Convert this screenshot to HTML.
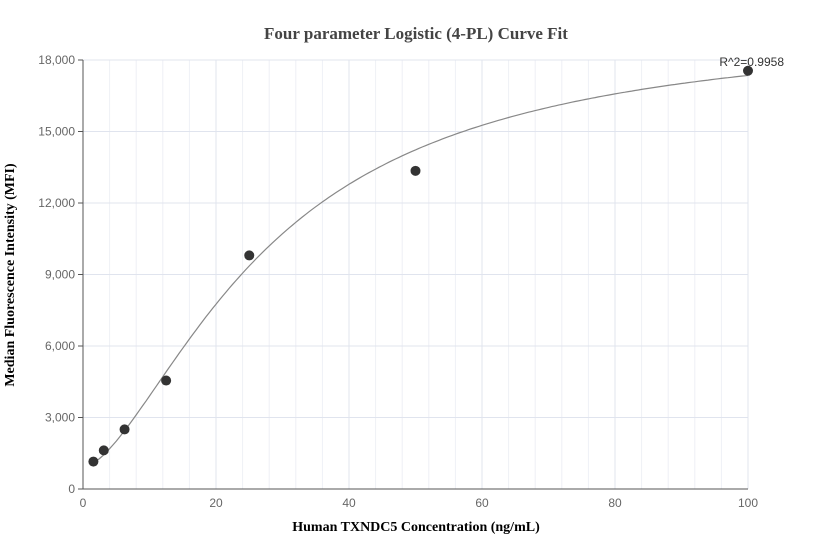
<!DOCTYPE html>
<html><head><meta charset="utf-8"><style>
body{margin:0;background:#fff;}
svg{display:block;font-family:"Liberation Sans",sans-serif;}
</style></head><body>
<svg id="chart" width="832" height="560">
<text x="416" y="39" text-anchor="middle" font-family="Liberation Serif" font-weight="bold" font-size="17" fill="#444">Four parameter Logistic (4-PL) Curve Fit</text>
<text x="416" y="531" text-anchor="middle" font-family="Liberation Serif" font-weight="bold" font-size="14" fill="#000">Human TXNDC5 Concentration (ng/mL)</text>
<text transform="translate(14,275) rotate(-90)" text-anchor="middle" font-family="Liberation Serif" font-weight="bold" font-size="14" fill="#000">Median Fluorescence Intensity (MFI)</text>
<g id="grid"></g><g id="axes"></g><g id="curve"></g><g id="points"></g>
<text x="784" y="66" text-anchor="end" font-size="12" fill="#333">R^2=0.9958</text>
</svg>
<script>
const xData=[1.5625,3.125,6.25,12.5,25,50,100];
const yData=[1150,1620,2500,4550,9800,13350,17550];
const xTicks=[0,20,40,60,80,100];
const yTicks=[0,3000,6000,9000,12000,15000,18000];
const fitA=900, fitB=1.6, fitC=28, fitD=19500;
const X0=83,X1=748,Y0=489,Y1=60;
const sx=v=>X0+(v-0)/(100-0)*(X1-X0);
const sy=v=>Y0-(v/18000)*(Y0-Y1);
const NS='http://www.w3.org/2000/svg';
function mk(tag,attrs,parent){const e=document.createElementNS(NS,tag);for(const k in attrs)e.setAttribute(k,attrs[k]);document.getElementById(parent).appendChild(e);return e;}
for(let v=4;v<100;v+=4){if(v%20===0)continue;
 const l=mk('line',{x1:sx(v),x2:sx(v),y1:Y1,y2:Y0,stroke:'#eef0f6','stroke-width':1},'grid');
 
 }
xTicks.forEach(v=>{
 if(v>0){const l=mk('line',{x1:sx(v),x2:sx(v),y1:Y1,y2:Y0,stroke:'#e0e4ee','stroke-width':1},'grid');
 
 }
 const t=mk('text',{x:sx(v),y:Y0+18,'text-anchor':'middle','font-size':12,fill:'#666'},'axes');t.textContent=v;
 
 
});
yTicks.forEach(v=>{
 if(v>0){const l=mk('line',{x1:X0,x2:X1,y1:sy(v),y2:sy(v),stroke:'#e0e4ee','stroke-width':1},'grid');
 
 }
 mk('line',{x1:X0-5,x2:X0,y1:sy(v),y2:sy(v),stroke:'#555'},'axes');
 const t=mk('text',{x:X0-8,y:sy(v)+4,'text-anchor':'end','font-size':12,fill:'#666'},'axes');t.textContent=v.toLocaleString('en-US');
 
 
});
const ya=mk('line',{x1:X0,x2:X0,y1:Y1,y2:Y0,stroke:'#555'},'axes');


const xa=mk('line',{x1:X0,x2:X1,y1:Y0,y2:Y0,stroke:'#555'},'axes');


let d='';
for(let x=1.5;x<=100;x+=0.5){const y=fitD+(fitA-fitD)/(1+Math.pow(x/fitC,fitB));d+=(d?'L':'M')+sx(x).toFixed(1)+','+sy(y).toFixed(1);}
const c=mk('path',{d:d,fill:'none',stroke:'#888','stroke-width':1.2},'curve');


xData.forEach((x,i)=>{
 const p=mk('circle',{cx:sx(x),cy:sy(yData[i]),r:5,fill:'#333'},'points');
 
 
});
</script>
</body></html>
